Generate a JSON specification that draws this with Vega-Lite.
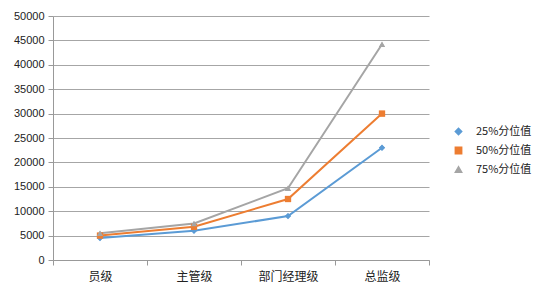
{
  "$schema": "https://vega.github.io/schema/vega-lite/v6.json",
  "width": 376,
  "height": 244,
  "autosize": "none",
  "padding": {"left": 53, "top": 16, "right": 117, "bottom": 37},
  "background": "white",
  "data": {
    "values": [
      {"level": "员级", "series": "25%分位值", "value": 4500},
      {"level": "主管级", "series": "25%分位值", "value": 6000},
      {"level": "部门经理级", "series": "25%分位值", "value": 9000},
      {"level": "总监级", "series": "25%分位值", "value": 23000},
      {"level": "员级", "series": "50%分位值", "value": 5000},
      {"level": "主管级", "series": "50%分位值", "value": 6800},
      {"level": "部门经理级", "series": "50%分位值", "value": 12500},
      {"level": "总监级", "series": "50%分位值", "value": 30000},
      {"level": "员级", "series": "75%分位值", "value": 5500},
      {"level": "主管级", "series": "75%分位值", "value": 7500},
      {"level": "部门经理级", "series": "75%分位值", "value": 14700},
      {"level": "总监级", "series": "75%分位值", "value": 44200}
    ]
  },
  "encoding": {
    "x": {
      "field": "level", "type": "nominal", "sort": ["员级", "主管级", "部门经理级", "总监级"],
      "scale": {"paddingInner": 0, "paddingOuter": 0},
      "axis": {"title": null, "labelAngle": 0, "tickBand": "extent", "domainColor": "#999999", "tickColor": "#999999", "tickSize": 5, "labelPadding": 6, "labelFontSize": 12, "labelColor": "#222222", "labelFont": "Noto Sans CJK SC", "grid": false}
    },
    "y": {
      "field": "value", "type": "quantitative",
      "scale": {"domain": [0, 50000]},
      "axis": {"title": null, "format": "d", "values": [0,5000,10000,15000,20000,25000,30000,35000,40000,45000,50000], "domainColor": "#999999", "tickColor": "#999999", "tickSize": 5, "gridColor": "#a6a6a6", "labelFontSize": 11, "labelColor": "#222222", "labelFont": "Liberation Sans", "labelPadding": 4}
    },
    "color": {
      "field": "series", "type": "nominal",
      "scale": {"domain": ["25%分位值", "50%分位值", "75%分位值"], "range": ["#5B9BD5", "#ED7D31", "#A5A5A5"]},
      "legend": {"title": null, "orient": "none", "legendX": 394, "legendY": 110, "labelFont": "Noto Sans CJK SC", "labelFontSize": 11, "labelColor": "#222222", "rowPadding": 6, "symbolSize": 40, "symbolOffset": 6, "labelOffset": 12}
    },
    "shape": {
      "field": "series", "type": "nominal",
      "scale": {"domain": ["25%分位值", "50%分位值", "75%分位值"], "range": ["diamond", "square", "triangle-up"]},
      "legend": null
    }
  },
  "layer": [
    {"mark": {"type": "line", "strokeWidth": 2}},
    {"mark": {"type": "point", "filled": true, "size": 40, "opacity": 1}}
  ],
  "config": {"view": {"stroke": null}}
}
